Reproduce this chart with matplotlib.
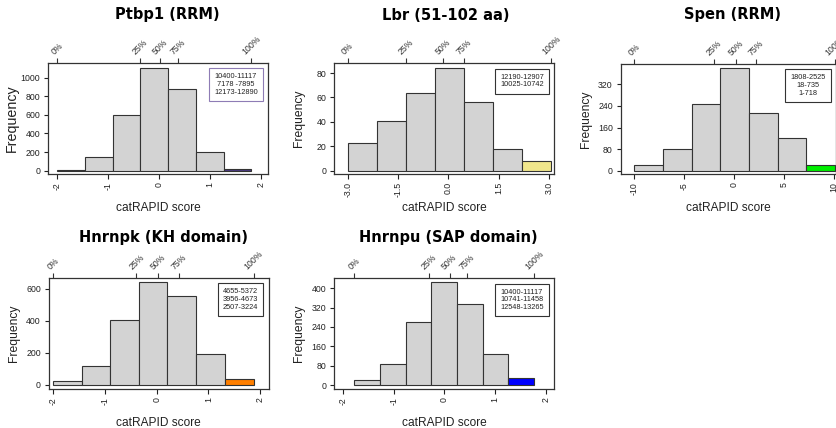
import matplotlib
matplotlib.use("Agg")
import matplotlib.pyplot as plt
import numpy as np

plt.rcParams['axes.unicode_minus'] = False
plt.rcParams['font.family'] = ['Liberation Sans', 'DejaVu Sans']

# --- data ---
pct_labels = ['0%', '25%', '50%', '75%', '100%']

ptbp1_edges = [-2.0, -1.45, -0.91, -0.37, 0.18, 0.73, 1.28, 1.82]
ptbp1_counts = [10, 143, 595, 1108, 875, 204, 22]
ptbp1_pct = [-2.0, -0.37, 0.03, 0.38, 1.82]
ptbp1_regions = ['10400-11117', '7178 -7895', '12173-12890']

lbr_edges = [-3.0, -2.13, -1.26, -0.40, 0.47, 1.34, 2.21, 3.07]
lbr_counts = [23, 41, 64, 84, 56, 18, 8]
lbr_pct = [-3.0, -1.26, -0.16, 0.47, 3.07]
lbr_regions = ['12190-12907', '10025-10742']

spen_edges = [-10.0, -7.09, -4.21, -1.37, 1.51, 4.38, 7.26, 10.1]
spen_counts = [23, 80, 246, 381, 214, 122, 21]
spen_pct = [-10.0, -2.04, 0.17, 2.2, 10.1]
spen_regions = ['1808-2525', '18-735', '1-718']

hnrnpk_edges = [-2.0, -1.45, -0.90, -0.34, 0.21, 0.77, 1.32, 1.88]
hnrnpk_counts = [25, 121, 404, 642, 558, 194, 35]
hnrnpk_pct = [-2.0, -0.39, 0.03, 0.44, 1.88]
hnrnpk_regions = ['4655-5372', '3956-4673', '2507-3224']

hnrnpu_edges = [-1.79, -1.28, -0.77, -0.26, 0.25, 0.76, 1.26, 1.77]
hnrnpu_counts = [22, 88, 259, 426, 334, 127, 30]
hnrnpu_pct = [-1.79, -0.31, 0.10, 0.44, 1.78]
hnrnpu_regions = ['10400-11117', '10741-11458', '12548-13265']

W, H = 837, 428
fig = plt.figure(figsize=(W / 100, H / 100), dpi=100)

grey_txt = '#222222'
edge_c = '#333333'

# title, edges, counts, pct, regions, highlight colour, legend edge,
# axes box px (left, right, top, bottom), xlim, ylim, xticks, yticks, xfmt, title centre px, ylabel size
panels = [
    ('Ptbp1 (RRM)', ptbp1_edges, ptbp1_counts, ptbp1_pct, ptbp1_regions, '#4b3a82', '#8e7cb5',
     (48.3, 268.3, 62.7, 174), (-2.177, 2.151), (-35.5, 1161), [-2, -1, 0, 1, 2],
     [0, 200, 400, 600, 800, 1000], '%d', (167, 15), 10.3),
    ('Lbr (51-102 aa)', lbr_edges, lbr_counts, lbr_pct, lbr_regions, '#f0e68c', '#333333',
     (334.3, 554.3, 63.3, 174), (-3.40, 3.158), (-2.7, 88.0), [-3, -1.5, 0, 1.5, 3],
     [0, 20, 40, 60, 80], '%.1f', (446, 15), 8.7),
    ('Spen (RRM)', spen_edges, spen_counts, spen_pct, spen_regions, '#00ee00', '#333333',
     (621, 836, 64, 174), (-11.33, 10.23), (-12.2, 395.6), [-10, -5, 0, 5, 10],
     [0, 80, 160, 240, 320], '%d', (733, 15), 8.7),
    ('Hnrnpk (KH domain)', hnrnpk_edges, hnrnpk_counts, hnrnpk_pct, hnrnpk_regions, '#ff7f00', '#333333',
     (49, 268.7, 277.7, 389), (-2.083, 2.169), (-25, 670.6), [-2, -1, 0, 1, 2],
     [0, 200, 400, 600], '%d', (164, 237.5), 8.7),
    ('Hnrnpu (SAP domain)', hnrnpu_edges, hnrnpu_counts, hnrnpu_pct, hnrnpu_regions, '#0000ff', '#333333',
     (334.3, 554, 278.3, 389), (-2.178, 2.166), (-16.5, 441), [-2, -1, 0, 1, 2],
     [0, 80, 160, 240, 320, 400], '%d', (448.5, 237.5), 8.7),
]

for (title, edges, counts, pct, regions, hcol, lcol, box, xlim, ylim,
     xt, yt, xfmt, tpos, ylsize) in panels:
    l, r, t, b = box
    ax = fig.add_axes([l / W, 1 - b / H, (r - l) / W, (b - t) / H])
    edges = np.array(edges)
    colors = ['lightgray'] * (len(counts) - 1) + [hcol]
    ax.bar(edges[:-1], counts, width=np.diff(edges), align='edge',
           color=colors, edgecolor=edge_c, linewidth=0.8)
    ax.set_xlim(*xlim)
    ax.set_ylim(*ylim)
    for s in ax.spines.values():
        s.set_color(edge_c)
        s.set_linewidth(0.9)

    ax.set_xticks(xt)
    ax.set_xticklabels([xfmt % v for v in xt], rotation=90)
    ax.set_yticks(yt)
    ax.tick_params(axis='x', length=3.6, pad=2, labelsize=6.3, colors=grey_txt, width=0.8)
    ax.tick_params(axis='y', length=2.9, pad=3, labelsize=6.3, colors=grey_txt, width=0.8)

    sec = ax.secondary_xaxis('top')
    sec.set_xticks(pct)
    sec.set_xticklabels(pct_labels, rotation=45)
    sec.tick_params(length=3.6, pad=1.2, labelsize=6.3, colors='#333333', width=0.8)
    sec.spines['top'].set_visible(False)

    ax.set_xlabel('catRAPID score', fontsize=8.6, color=grey_txt)
    ax.xaxis.set_label_coords(0.5, -28 / (b - t))
    ax.set_ylabel('Frequency', fontsize=ylsize, color=grey_txt)
    ax.yaxis.set_label_coords(-29 / (r - l), 0.5)

    ax.annotate('\n'.join(regions), xy=(1, 1), xycoords='axes fraction',
                xytext=(-7.5, -7.5), textcoords='offset points',
                ha='right', va='top', multialignment='center', fontsize=5.3,
                color=grey_txt, linespacing=1.15,
                bbox=dict(boxstyle='square,pad=0.7', fc='white', ec=lcol, lw=0.8))

    fig.text(tpos[0] / W, 1 - tpos[1] / H, title, ha='center', va='center',
             fontsize=10.5, fontweight='bold', family='DejaVu Sans')

fig.savefig('out.png', dpi=100)
